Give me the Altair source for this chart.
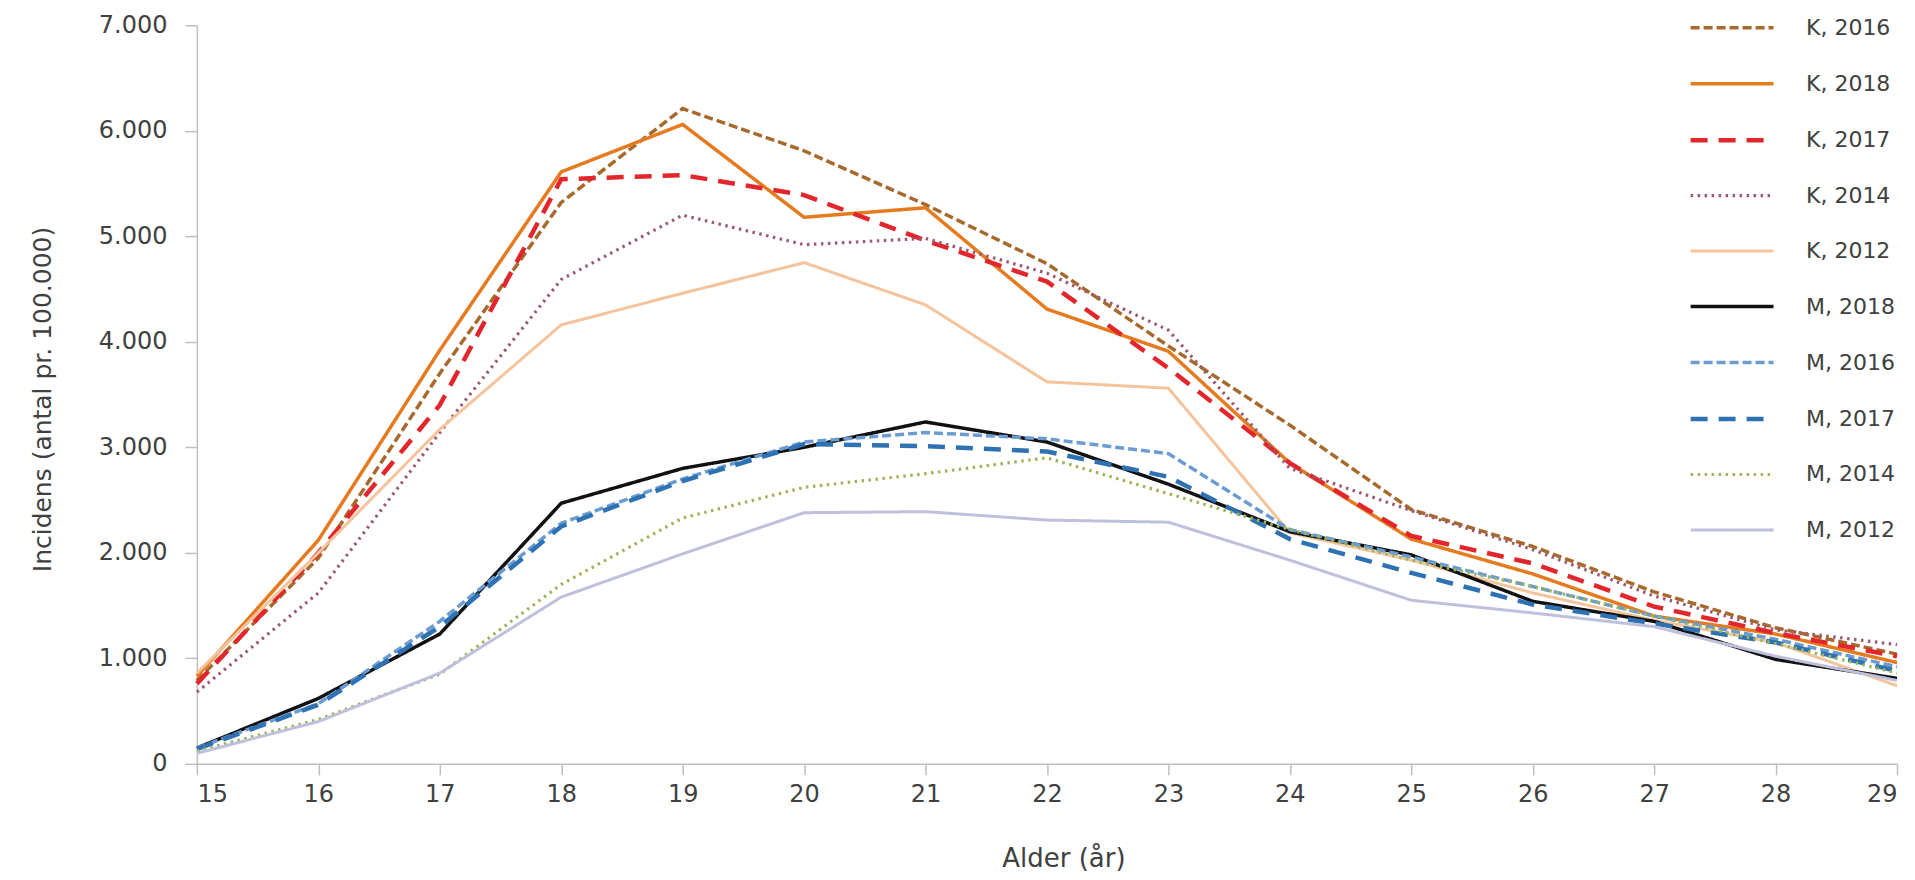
import altair as alt
import pandas as pd

ages = list(range(15, 30))
series_names = ["K, 2016", "K, 2018", "K, 2017", "K, 2014", "K, 2012",
                "M, 2018", "M, 2016", "M, 2017", "M, 2014", "M, 2012"]

k_2016 = [790, 1950, 3700, 5320, 6210, 5810, 5300, 4740, 3960, 3210, 2410, 2060, 1630, 1290, 1040]
k_2018 = [830, 2120, 3920, 5610, 6060, 5180, 5270, 4310, 3910, 2850, 2130, 1800, 1400, 1230, 960]
k_2017 = [760, 2000, 3400, 5540, 5580, 5390, 4960, 4570, 3750, 2850, 2160, 1900, 1490, 1240, 1020]
k_2014 = [680, 1620, 3140, 4590, 5200, 4920, 4980, 4650, 4110, 2800, 2400, 2030, 1590, 1270, 1130]
k_2012 = [860, 2000, 3170, 4160, 4460, 4750, 4350, 3620, 3560, 2190, 1930, 1620, 1360, 1150, 740]
m_2018 = [150, 620, 1230, 2470, 2800, 3000, 3240, 3050, 2650, 2200, 1980, 1540, 1350, 990, 810]
m_2016 = [150, 570, 1350, 2280, 2700, 3050, 3140, 3080, 2940, 2220, 1960, 1680, 1400, 1180, 920]
m_2017 = [140, 560, 1300, 2250, 2680, 3030, 3010, 2960, 2720, 2130, 1810, 1510, 1330, 1150, 880]
m_2014 = [120, 420, 850, 1700, 2330, 2620, 2750, 2900, 2560, 2220, 1930, 1680, 1400, 1140, 860]
m_2012 = [100, 400, 860, 1580, 1990, 2380, 2390, 2310, 2290, 1930, 1550, 1430, 1300, 1020, 790]

all_values = [k_2016, k_2018, k_2017, k_2014, k_2012,
              m_2018, m_2016, m_2017, m_2014, m_2012]

colors = ["#A8692C", "#E57A1E", "#E3262C", "#9A5B6E", "#F5C39C",
          "#111111", "#6A9BD1", "#2F72B3", "#9AB55A", "#BFC0DC"]
dashes = [[9, 4], [1, 0], [17, 11], [2.5, 4.5], [1, 0],
          [1, 0], [9, 4], [17, 11], [2.5, 4.5], [1, 0]]
widths = [3.5, 3.5, 4.5, 3.2, 3, 3.5, 3.5, 4.5, 3.2, 3]

y_ticks = [0, 1000, 2000, 3000, 4000, 5000, 6000, 7000]

rows = []
for name, vals in zip(series_names, all_values):
    for a, v in zip(ages, vals):
        rows.append({"Alder": a, "Incidens": v, "Serie": name})
df = pd.DataFrame(rows)

FONT = "DejaVu Sans"
TXT = "#404040"
AXC = "#BFBFBF"

leg = alt.Legend(
    title=None, orient="none", legendX=1494, legendY=-10,
    symbolType="M-1.19,0H6.71", symbolSize=441, labelOffset=90,
    rowPadding=32, labelFontSize=22, labelFont=FONT, labelColor=TXT,
    padding=0, symbolOpacity=1, labelLimit=300,
)

chart = alt.Chart(df).mark_line().encode(
    x=alt.X("Alder:Q",
            scale=alt.Scale(domain=[15, 29], nice=False, zero=False),
            axis=alt.Axis(values=ages, format="d", title="Alder (år)",
                          grid=False, tickSize=11, labelPadding=20,
                          labelBaseline="middle",
                          labelFont=FONT, labelFontSize=24, labelColor=TXT,
                          titleFont=FONT, titleFontSize=26, titleColor=TXT,
                          titleFontWeight="normal",
                          titleX=867, titleY=95, titleBaseline="middle",
                          titleAlign="center",
                          domainColor=AXC, tickColor=AXC,
                          domainWidth=1.5, tickWidth=1.5)),
    y=alt.Y("Incidens:Q",
            scale=alt.Scale(domain=[0, 7000], nice=False),
            axis=alt.Axis(values=y_ticks,
                          labelExpr="replace(format(datum.value, ','), ',', '.')",
                          title="Incidens (antal pr. 100.000)",
                          grid=False, tickSize=12, labelPadding=18,
                          labelFont=FONT, labelFontSize=24, labelColor=TXT,
                          titleFont=FONT, titleFontSize=25, titleColor=TXT,
                          titleFontWeight="normal",
                          titleX=-154, titleY=374, titleBaseline="middle",
                          titleAlign="center", titleAngle=270,
                          domainColor=AXC, tickColor=AXC,
                          domainWidth=1.5, tickWidth=1.5)),
    color=alt.Color("Serie:N", sort=series_names,
                    scale=alt.Scale(domain=series_names, range=colors),
                    legend=leg),
    strokeDash=alt.StrokeDash("Serie:N", sort=series_names,
                              scale=alt.Scale(domain=series_names, range=dashes),
                              legend=leg),
    strokeWidth=alt.StrokeWidth("Serie:N", sort=series_names,
                                scale=alt.Scale(type="ordinal", domain=series_names, range=widths),
                                legend=leg),
).properties(
    width=1701, height=739,
    autosize=alt.AutoSizeParams(type="none"),
    padding={"left": 189, "top": 17, "right": 10, "bottom": 114},
).configure_view(strokeWidth=0)

chart.save("out.html", embed_options={"renderer": "svg", "actions": False})
